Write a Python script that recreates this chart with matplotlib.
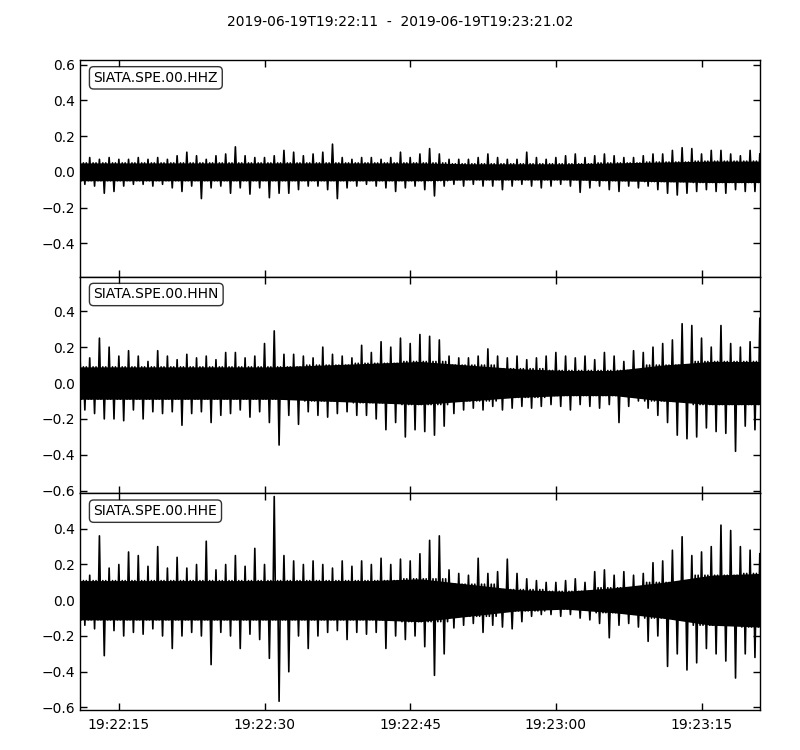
import numpy as np
import matplotlib
matplotlib.use("Agg")
import matplotlib.pyplot as plt
import matplotlib.dates as mdates
from matplotlib.ticker import MultipleLocator

# ---------------- data ----------------
start = np.datetime64("2019-06-19T19:22:11.000")
duration = 70.02  # seconds
title = "2019-06-19T19:22:11  -  2019-06-19T19:23:21.02"
channels = ["SIATA.SPE.00.HHZ", "SIATA.SPE.00.HHN", "SIATA.SPE.00.HHE"]

# per-second peak envelope (upper / lower) for t = 0..70 s
hhz_hi = [0.07, 0.08, 0.07, 0.08, 0.07, 0.07, 0.08, 0.07, 0.08, 0.07,
          0.09, 0.11, 0.09, 0.07, 0.09, 0.10, 0.14, 0.09, 0.08, 0.08,
          0.09, 0.12, 0.11, 0.09, 0.10, 0.11, 0.155, 0.08, 0.07, 0.08,
          0.08, 0.07, 0.08, 0.11, 0.08, 0.10, 0.13, 0.10, 0.07, 0.07,
          0.07, 0.08, 0.10, 0.08, 0.07, 0.07, 0.11, 0.08, 0.07, 0.08,
          0.09, 0.10, 0.08, 0.09, 0.10, 0.09, 0.08, 0.08, 0.09, 0.10,
          0.10, 0.12, 0.135, 0.13, 0.10, 0.12, 0.12, 0.10, 0.09, 0.12, 0.10]
hhz_lo = [-0.07, -0.08, -0.12, -0.11, -0.08, -0.07, -0.07, -0.08, -0.07, -0.09,
          -0.11, -0.08, -0.15, -0.09, -0.08, -0.12, -0.09, -0.125, -0.09, -0.145,
          -0.12, -0.12, -0.10, -0.08, -0.08, -0.10, -0.15, -0.09, -0.08, -0.07,
          -0.08, -0.09, -0.11, -0.09, -0.08, -0.10, -0.135, -0.08, -0.07, -0.08,
          -0.07, -0.08, -0.08, -0.10, -0.08, -0.07, -0.08, -0.09, -0.08, -0.07,
          -0.08, -0.115, -0.09, -0.08, -0.10, -0.11, -0.08, -0.09, -0.08, -0.10,
          -0.12, -0.13, -0.12, -0.11, -0.10, -0.11, -0.12, -0.10, -0.11, -0.11, -0.09]

hhn_hi = [0.15, 0.14, 0.25, 0.20, 0.15, 0.18, 0.15, 0.12, 0.18, 0.15,
          0.13, 0.16, 0.14, 0.15, 0.13, 0.17, 0.17, 0.14, 0.15, 0.22,
          0.29, 0.16, 0.16, 0.15, 0.14, 0.20, 0.16, 0.15, 0.14, 0.21,
          0.17, 0.23, 0.20, 0.25, 0.22, 0.27, 0.26, 0.24, 0.15, 0.14,
          0.14, 0.15, 0.19, 0.15, 0.14, 0.15, 0.13, 0.14, 0.15, 0.17,
          0.15, 0.14, 0.15, 0.13, 0.17, 0.15, 0.12, 0.18, 0.17, 0.20,
          0.22, 0.24, 0.33, 0.32, 0.25, 0.20, 0.32, 0.22, 0.20, 0.23, 0.36]
hhn_lo = [-0.15, -0.17, -0.20, -0.20, -0.21, -0.15, -0.20, -0.16, -0.17, -0.16,
          -0.235, -0.17, -0.16, -0.22, -0.18, -0.17, -0.15, -0.19, -0.16, -0.22,
          -0.345, -0.18, -0.23, -0.16, -0.18, -0.19, -0.17, -0.16, -0.18, -0.18,
          -0.20, -0.26, -0.22, -0.30, -0.26, -0.27, -0.29, -0.24, -0.17, -0.15,
          -0.14, -0.15, -0.13, -0.15, -0.14, -0.13, -0.14, -0.13, -0.12, -0.13,
          -0.15, -0.12, -0.13, -0.14, -0.12, -0.22, -0.13, -0.10, -0.14, -0.18,
          -0.22, -0.29, -0.31, -0.30, -0.25, -0.27, -0.28, -0.38, -0.24, -0.26, -0.25]

hhe_hi = [0.15, 0.14, 0.36, 0.18, 0.20, 0.27, 0.25, 0.19, 0.30, 0.18,
          0.24, 0.18, 0.20, 0.33, 0.17, 0.20, 0.25, 0.19, 0.29, 0.20,
          0.58, 0.25, 0.22, 0.20, 0.22, 0.20, 0.18, 0.22, 0.19, 0.22,
          0.20, 0.235, 0.20, 0.23, 0.22, 0.26, 0.335, 0.36, 0.17, 0.15,
          0.14, 0.235, 0.15, 0.16, 0.23, 0.15, 0.12, 0.11, 0.10, 0.10,
          0.11, 0.12, 0.10, 0.16, 0.17, 0.14, 0.16, 0.14, 0.15, 0.21,
          0.22, 0.28, 0.355, 0.25, 0.27, 0.30, 0.42, 0.39, 0.30, 0.28, 0.26]
hhe_lo = [-0.14, -0.16, -0.31, -0.17, -0.20, -0.18, -0.19, -0.16, -0.20, -0.27,
          -0.20, -0.18, -0.20, -0.36, -0.18, -0.20, -0.27, -0.19, -0.22, -0.325,
          -0.565, -0.40, -0.20, -0.27, -0.20, -0.18, -0.17, -0.22, -0.18, -0.19,
          -0.18, -0.27, -0.20, -0.22, -0.20, -0.26, -0.42, -0.30, -0.155, -0.14,
          -0.13, -0.18, -0.14, -0.15, -0.16, -0.12, -0.09, -0.08, -0.08, -0.09,
          -0.08, -0.10, -0.11, -0.13, -0.21, -0.14, -0.13, -0.15, -0.23, -0.20,
          -0.37, -0.30, -0.39, -0.35, -0.27, -0.30, -0.34, -0.435, -0.30, -0.32, -0.25]

# dense-core half width every 5 s (t = 0, 5, ..., 70)
hhz_core = [0.05, 0.05, 0.05, 0.05, 0.05, 0.05, 0.05, 0.05, 0.045, 0.045, 0.045, 0.05, 0.055, 0.06, 0.06]
hhn_core = [0.09, 0.09, 0.09, 0.09, 0.09, 0.10, 0.11, 0.12, 0.10, 0.08, 0.07, 0.07, 0.10, 0.12, 0.12]
hhe_core = [0.11, 0.11, 0.11, 0.11, 0.11, 0.11, 0.11, 0.12, 0.09, 0.06, 0.05, 0.07, 0.10, 0.14, 0.15]

ylims = [(-0.587, 0.626), (-0.614, 0.592), (-0.614, 0.598)]

his = [hhz_hi, hhn_hi, hhe_hi]
los = [hhz_lo, hhn_lo, hhe_lo]
cores = [hhz_core, hhn_core, hhe_core]

# ---------------- figure ----------------
fig = plt.figure(figsize=(8, 7.5), dpi=100, facecolor="white")
left, right, top, bottom = 0.1, 0.95, 1 - 60 / 750, 1 - 710 / 750
h = (top - bottom) / 3.0

t_sec = np.arange(len(hhz_hi), dtype=float)
to_dt = lambda s: start + (np.asarray(s) * 1000).astype("timedelta64[ms]")
end = start + np.timedelta64(int(duration * 1000), "ms")

# sub-second offsets of the drawn path inside each second
offs = np.array([0.0, 0.15, 0.35, 0.5, 0.65, 0.85])

axes = []
for i in range(3):
    ax = fig.add_axes([left, top - (i + 1) * h, right - left, h],
                      sharex=axes[0] if axes else None)
    axes.append(ax)
    hi = np.array(his[i]); lo = np.array(los[i])
    c5 = np.array(cores[i])
    c = c5[np.minimum(np.round(t_sec / 5).astype(int), len(c5) - 1)]
    # dense core band
    tc = np.arange(len(c5)) * 5.0
    tc[-1] = duration
    ax.fill_between(to_dt(tc), -c5, c5, color="k", lw=0)
    # trace path through the peak envelope and the core band
    xs = (t_sec[:, None] + offs[None, :]).ravel()
    ys = np.column_stack([hi, -c, c, lo, c, -c]).ravel()
    keep = xs <= duration
    ax.plot(to_dt(xs[keep]), ys[keep], color="k", lw=1.2)
    ax.set_ylim(*ylims[i])
    ax.set_xlim(start, end)
    ax.yaxis.set_major_locator(MultipleLocator(0.2))
    ax.tick_params(direction="in", top=True, right=True, length=5,
                   labelsize=10, width=1)
    for sp in ax.spines.values():
        sp.set_linewidth(1.0)
    ax.text(0.02, 0.95, channels[i], transform=ax.transAxes, fontsize=10,
            ha="left", va="top",
            bbox=dict(boxstyle="round", fc="w", ec="k", alpha=0.8))
    if i < 2:
        plt.setp(ax.get_xticklabels(), visible=False)

axes[-1].xaxis.set_major_locator(mdates.SecondLocator(bysecond=[0, 15, 30, 45]))
axes[-1].xaxis.set_major_formatter(mdates.DateFormatter("%H:%M:%S"))
axes[-1].tick_params(axis="x", pad=6)

fig.suptitle(title, fontsize=10, y=0.98)
fig.savefig("out.png", dpi=100, facecolor="white")
